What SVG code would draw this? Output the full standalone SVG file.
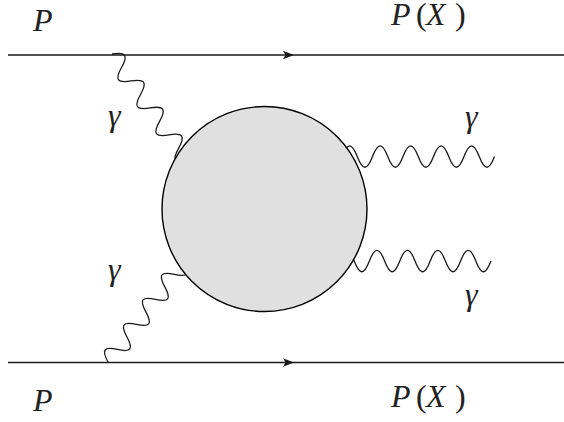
<svg xmlns="http://www.w3.org/2000/svg" width="564" height="422" viewBox="0 0 564 422">
<style>
.line{stroke:#1a1a1a;stroke-width:1.3;fill:none}
.photon{stroke:#1a1a1a;stroke-width:1.3;fill:none;stroke-linejoin:round}
.arrow{fill:#1a1a1a;stroke:none}
.blob{fill:#e0e0e0;stroke:#000;stroke-width:1.4}
text{font-family:'Liberation Serif','Times New Roman','DejaVu Serif',serif;font-size:32px;fill:#222}
.it{font-style:italic}
.up{font-style:normal}
</style>
<rect x="0" y="0" width="564" height="422" fill="#fff"/>
<g id="connectors">
  <line class="line" x1="8" y1="55" x2="564" y2="55"/>
  <path class="arrow" d="M294,55 L283,50.8 L285.5,55 L283,59.2 Z"/>
  <line class="line" x1="8" y1="362.5" x2="564" y2="362.5"/>
  <path class="arrow" d="M294,362.5 L283,358.3 L285.5,362.5 L283,366.7 Z"/>
  <path class="photon" transform="translate(112,54) rotate(54.8)" d="M0,0 c6,-12.7 10.5,-12.7 16.5,0 s10.5,12.7 16.5,0 s10.5,-12.7 16.5,0 s10.5,12.7 16.5,0 s10.5,-12.7 16.5,0 s10.5,12.7 16.5,0 s10.5,-12.7 16.5,0 s10.5,12.7 16.5,0"/>
  <path class="photon" transform="translate(108,362) rotate(-52.9)" d="M0,0 c5.7,-12.7 10,-12.7 15.7,0 s10,12.7 15.7,0 s10,-12.7 15.7,0 s10,12.7 15.7,0 s10,-12.7 15.7,0 s10,12.7 15.7,0 s10,-12.7 15.7,0 s10,12.7 15.7,0"/>
  <path class="photon" transform="translate(342,156.5)" d="M0,0 c5.5,-14.3 9.75,-14.3 15.25,0 s9.75,14.3 15.25,0 s9.75,-14.3 15.25,0 s9.75,14.3 15.25,0 s9.75,-14.3 15.25,0 s9.75,14.3 15.25,0 s9.75,-14.3 15.25,0 s9.75,14.3 15.25,0 s9.75,-14.3 15.25,0 s9.75,14.3 15.25,0"/>
  <path class="photon" transform="translate(339,261)" d="M0,0 c5.5,-14.3 9.7,-14.3 15.2,0 s9.7,14.3 15.2,0 s9.7,-14.3 15.2,0 s9.7,14.3 15.2,0 s9.7,-14.3 15.2,0 s9.7,14.3 15.2,0 s9.7,-14.3 15.2,0 s9.7,14.3 15.2,0 s9.7,-14.3 15.2,0 s9.7,14.3 15.2,0"/>
</g>
<g id="blob">
  <circle class="blob" cx="264.5" cy="209" r="102.5"/>
</g>
<g id="label-p-in-top"><text class="it" x="33" y="31">P</text></g>
<g id="label-px-out-top"><text y="25"><tspan class="it" x="391">P</tspan><tspan class="up" x="416">(</tspan><tspan class="it" x="426">X</tspan><tspan class="up" x="455">)</tspan></text></g>
<g id="label-p-in-bottom"><text class="it" x="33" y="411">P</text></g>
<g id="label-px-out-bottom"><text y="407"><tspan class="it" x="391">P</tspan><tspan class="up" x="416">(</tspan><tspan class="it" x="426">X</tspan><tspan class="up" x="455">)</tspan></text></g>
<g id="label-gamma-tl"><text class="it" x="108" y="126">γ</text></g>
<g id="label-gamma-tr"><text class="it" x="465" y="127">γ</text></g>
<g id="label-gamma-bl"><text class="it" x="108" y="280">γ</text></g>
<g id="label-gamma-br"><text class="it" x="465" y="305">γ</text></g>
</svg>
